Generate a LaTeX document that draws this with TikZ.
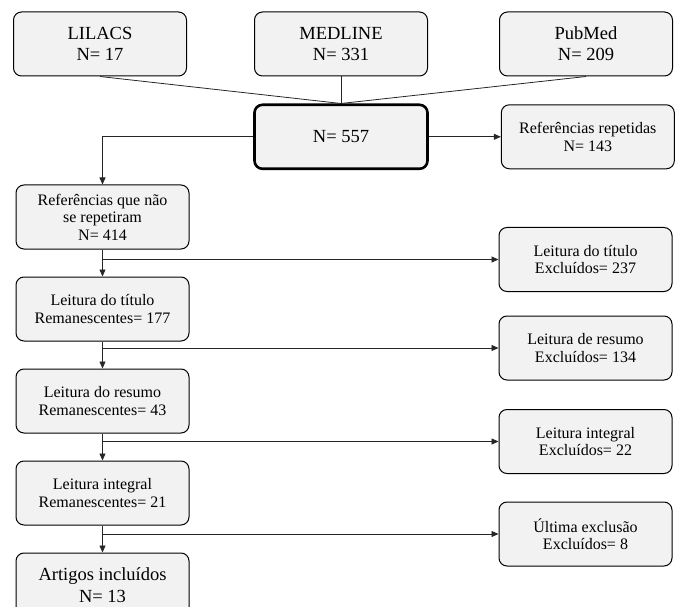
\documentclass[tikz,border=0pt]{standalone}
\usepackage{fontspec}
\setmainfont{Liberation Serif}
\usetikzlibrary{positioning,arrows.meta}
\definecolor{boxfill}{RGB}{242,242,242}

\begin{document}
\begin{tikzpicture}[
  x=1pt, y=-1pt,
  >={Triangle[length=7pt,width=6pt]},
  box/.style={rectangle, rounded corners=8pt, draw=black, line width=1pt, fill=boxfill, minimum width=173pt, minimum height=64pt, align=center, inner sep=0pt, font=\fontsize{16}{17.5}\selectfont},
  bigbox/.style={box, font=\fontsize{18.5}{21}\selectfont},
  totalbox/.style={bigbox, line width=2.6pt},
  link/.style={draw=black!85, line width=0.8pt},
  node distance=27pt and 67pt
]
\useasboundingbox (0,0) rectangle (678,607);

% sources
\node[bigbox] (medline) at (341,44) {MEDLINE\\N= 331};
\node[bigbox, left=67pt of medline] (lilacs) {LILACS\\N= 17};
\node[bigbox, right=71pt of medline] (pubmed) {PubMed\\N= 209};
\node[totalbox, below=of medline] (total) {N= 557};
\node[box, right=72pt of total] (repeated) {Referências repetidas\\N= 143};

% remaining references
\node[box] (unique) at (102.5,217) {Referências que não\\se repetiram\\N= 414};
\node[box, below=of unique] (title) {Leitura do título\\Remanescentes= 177};
\node[box, below=of title] (abstract) {Leitura do resumo\\Remanescentes= 43};
\node[box, below=of abstract] (fulltext) {Leitura integral\\Remanescentes= 21};
\node[bigbox, below=of fulltext, font=\fontsize{18.5}{22}\selectfont] (included) {Artigos incluídos\\N= 13};

% excluded references
\node[box] (titleout) at (585.5,259.5) {Leitura do título\\Excluídos= 237};
\node[box] (abstractout) at (585.5,348) {Leitura de resumo\\Excluídos= 134};
\node[box] (fulltextout) at (585.5,441.5) {Leitura integral\\Excluídos= 22};
\node[box] (lastout) at (585.5,534) {Última exclusão\\Excluídos= 8};

% merging the sources
\draw[link] (lilacs.south) -- (total.north);
\draw[link] (medline.south) -- (total.north);
\draw[link] (pubmed.south) -- (total.north);
\draw[link,->] (total.east) -- (repeated.west);
\draw[link,->] (total.west) -| (unique.north);

% main column
\draw[link,->] (unique) -- (title);
\draw[link,->] (title) -- (abstract);
\draw[link,->] (abstract) -- (fulltext);
\draw[link,->] (fulltext) -- (included);

% exclusions
\draw[link,->] (unique.south |- titleout.west) -- (titleout.west);
\draw[link,->] (title.south |- abstractout.west) -- (abstractout.west);
\draw[link,->] (abstract.south |- fulltextout.west) -- (fulltextout.west);
\draw[link,->] (fulltext.south |- lastout.west) -- (lastout.west);

\end{tikzpicture}
\end{document}
